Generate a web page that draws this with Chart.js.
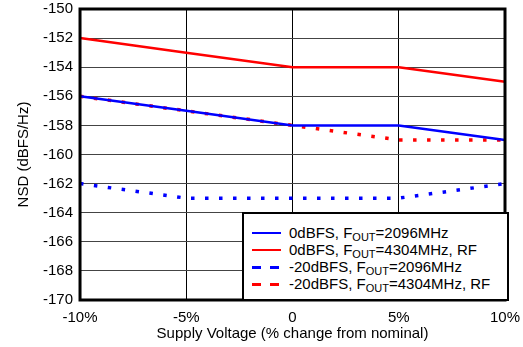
<!DOCTYPE html>
<html>
<head>
<meta charset="utf-8">
<script src="https://cdn.jsdelivr.net/npm/chart.js@4"></script>
<style>
  body { margin: 0; background: #fff; }
  #wrap { position: relative; width: 523px; height: 347px; }
  #legend {
    position: absolute; left: 242px; top: 212px; width: 263px; height: 85px;
    background: #fff; border: 2px solid #000;
    font-family: "Liberation Sans", Arial, sans-serif; font-size: 15px; color: #000;
  }
  .row { position: absolute; left: 0; height: 17px; line-height: 17px; white-space: nowrap; }
  .sample { position: absolute; left: 8px; top: 8px; width: 29px; }
  .txt { position: absolute; left: 45px; top: 0; }
  sub { font-size: 11px; vertical-align: -3px; line-height: 0; }
</style>
</head>
<body>
<div id="wrap">
  <canvas id="nsdChart" width="523" height="347"></canvas>
  <div id="legend"></div>
</div>
<script>
// supply voltage steps
let voltages = ["-10%", "-5%", "0", "5%", "10%"];

// NSD values (dBFS/Hz)
let nsd0dB2096 = [-156, -157, -158, -158, -159];
let nsd0dB4304 = [-152, -153, -154, -154, -155];
let nsd20dB2096 = [-162, -163, -163, -163, -162];
let nsd20dB4304 = [-156, -157, -158, -159, -159];

let seriesNames = [
  ["0dBFS, F", "=2096MHz"],
  ["0dBFS, F", "=4304MHz, RF"],
  ["-20dBFS, F", "=2096MHz"],
  ["-20dBFS, F", "=4304MHz, RF"]
];
let seriesColors = ["#0000ff", "#ff0000", "#0000ff", "#ff0000"];
let seriesDotted = [false, false, true, true];

let font = "'Liberation Sans', Arial, sans-serif";

// frame round the plot
let framePlugin = {
  id: "frame",
  afterDraw(chart) {
    let a = chart.chartArea;
    let ctx = chart.ctx;
    ctx.save();
    ctx.strokeStyle = "#000";
    ctx.lineWidth = 3;
    ctx.strokeRect(a.left, a.top, a.right - a.left, a.bottom - a.top);
    ctx.restore();
  }
};

let allData = [nsd0dB2096, nsd0dB4304, nsd20dB2096, nsd20dB4304];

new Chart(document.getElementById("nsdChart"), {
  type: "line",
  data: {
    labels: voltages,
    datasets: allData.map((d, i) => ({
      label: seriesNames[i].join("OUT"),
      data: d,
      borderColor: seriesColors[i],
      borderWidth: seriesDotted[i] ? 3.5 : 2.5,
      borderDash: seriesDotted[i] ? [3.5, 10.5] : [],
      borderCapStyle: "butt",
      pointRadius: 0,
      tension: 0,
      fill: false
    }))
  },
  options: {
    responsive: false,
    animation: false,
    layout: { padding: { top: 0, right: 18, left: 15, bottom: 6 } },
    plugins: {
      legend: { display: false },
      tooltip: { enabled: false }
    },
    scales: {
      x: {
        offset: false,
        grid: { color: "#000", lineWidth: 1, drawTicks: true, tickLength: 10, tickColor: "rgba(0,0,0,0)" },
        border: { display: false },
        ticks: { color: "#000", font: { family: font, size: 15, lineHeight: 1 }, padding: 0, maxRotation: 0 },
        title: { display: true, text: "Supply Voltage (% change from nominal)", color: "#000",
                 font: { family: font, size: 15, lineHeight: 1 }, padding: { top: 1, bottom: 0 } }
      },
      y: {
        min: -170,
        max: -150,
        grid: { color: "#444", lineWidth: 1, drawTicks: true, tickLength: 7, tickColor: "rgba(0,0,0,0)" },
        border: { display: false },
        ticks: { stepSize: 2, color: "#000", font: { family: font, size: 15 }, padding: 0 },
        title: { display: true, text: "NSD (dBFS/Hz)", color: "#000",
                 font: { family: font, size: 15 }, padding: { top: 0, bottom: 10 } }
      }
    }
  },
  plugins: [framePlugin]
});

// legend box
let legend = document.getElementById("legend");
seriesNames.forEach((n, i) => {
  let style = seriesDotted[i]
    ? "height:3px; background: repeating-linear-gradient(to right, " + seriesColors[i] + " 0 9px, transparent 9px 18px);"
    : "height:0; border-top: 2.5px solid " + seriesColors[i] + ";";
  legend.innerHTML += `
    <div class="row" style="top:${10 + i * 17}px; width:100%">
      <div class="sample" style="${style}"></div>
      <span class="txt">${n[0]}<sub>OUT</sub>${n[1]}</span>
    </div>`;
});
</script>
</body>
</html>
